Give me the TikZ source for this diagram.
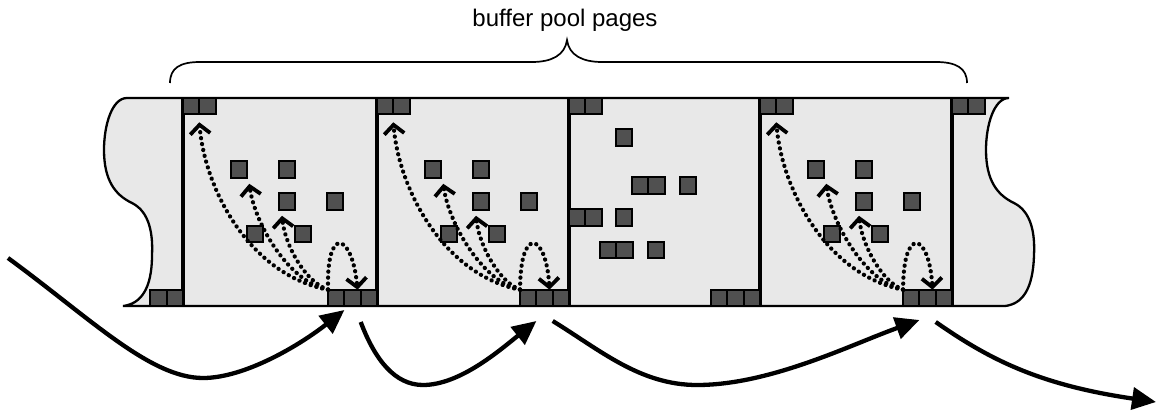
\documentclass[tikz,border=0pt]{standalone}
\usepackage{fontspec}
\setmainfont{Liberation Sans}
\usetikzlibrary{arrows.meta}
\definecolor{pagebg}{RGB}{232,232,232}
\definecolor{sqfill}{RGB}{80,80,80}
\begin{document}
\begin{tikzpicture}[x=1pt,y=-1pt,
  sqr/.style={draw=black, line width=2pt, fill=sqfill, minimum size=16.3pt, inner sep=0pt, outer sep=0pt, anchor=north west},
  strip/.style={draw=black, line width=2.3pt, fill=pagebg},
  pageline/.style={line width=3.4pt},
  dotarrow/.style={line width=4.2pt, dash pattern=on 0.2pt off 5.8pt, line cap=round, -{Straight Barb[length=9pt,width=20pt,line width'=3.8pt]}},
  jump/.style={line width=4.3pt, -{Triangle[length=24pt,width=22pt]}},
  bracepath/.style={line width=1.7pt},
  title/.style={font=\fontsize{24}{28}\selectfont, inner sep=0pt}
]
\useasboundingbox (0,0) rectangle (1156,414);

% strip of pages
\path[strip] (127,98) -- (1009,98)
  .. controls (994,98) and (986,125) .. (986,150)
  .. controls (986,180) and (997,195) .. (1014,203)
  .. controls (1032,212) and (1035,235) .. (1034,255)
  .. controls (1033,290) and (1022,304) .. (1005,306)
  -- (123,306)
  .. controls (140,304) and (152,290) .. (152,255)
  .. controls (153,235) and (150,212) .. (132,203)
  .. controls (115,195) and (104,180) .. (104,150)
  .. controls (104,125) and (112,98) .. (127,98) -- cycle;

\foreach \x in {183,377,569,760,952}
  \draw[pageline] (\x,98) -- (\x,306);

% partial pages at the ends
\node[sqr,anchor=south east] (p0-r2) at (183,306) {};
\node[sqr,anchor=south east] (p0-r1) at (166.7,306) {};
\node[sqr] (p5-t1) at (952,98) {};
\node[sqr] (p5-t2) at (968.3,98) {};

% pages with pointer arrows
\foreach \p/\xl/\xr in {1/183/377, 2/377/569, 4/760/952} {
  \node[sqr] (p\p-t1) at (\xl,98) {};
  \node[sqr] (p\p-t2) at ({\xl+16.3},98) {};
  \node[sqr] (p\p-a) at ({\xl+48},161.5) {};
  \node[sqr] (p\p-b) at ({\xl+96},161.5) {};
  \node[sqr] (p\p-c) at ({\xl+96},193.5) {};
  \node[sqr] (p\p-d) at ({\xl+144},193.5) {};
  \node[sqr] (p\p-e) at ({\xl+64},225.5) {};
  \node[sqr] (p\p-f) at ({\xl+112},225.5) {};
  \node[sqr,anchor=south east] (p\p-r3) at (\xr,306) {};
  \node[sqr,anchor=south east] (p\p-r2) at ({\xr-16.3},306) {};
  \node[sqr,anchor=south east] (p\p-r1) at ({\xr-32.6},306) {};
  \draw[dotarrow] (p\p-r1.north west) .. controls ({\xl+67},275) and ({\xl+22},190) .. ([yshift=-8pt]p\p-t1.south east);
  \draw[dotarrow] (p\p-r1.north west) .. controls ({\xl+107},283) and ({\xl+72},225) .. ([xshift=2pt,yshift=-6pt]p\p-a.south east);
  \draw[dotarrow] (p\p-r1.north west) .. controls ({\xl+122},282) and ({\xl+102},245) .. ([xshift=3pt,yshift=-6pt]p\p-c.south west);
  \draw[dotarrow] (p\p-r1.north west) .. controls ({\xl+143},225) and ({\xl+169},232) .. ([xshift=5pt]p\p-r2.north);
}

% page 3 (no pointers)
\node[sqr] (p3-t1) at (569,98) {};
\node[sqr] (p3-t2) at (585.3,98) {};
\node[sqr] (p3-a) at (616,129.5) {};
\node[sqr] (p3-b1) at (632,177.5) {};
\node[sqr] (p3-b2) at (648.3,177.5) {};
\node[sqr] (p3-c) at (680,177.5) {};
\node[sqr] (p3-l1) at (569,209.5) {};
\node[sqr] (p3-l2) at (585.3,209.5) {};
\node[sqr] (p3-d) at (616,209.5) {};
\node[sqr] (p3-e1) at (600,241.5) {};
\node[sqr] (p3-e2) at (616.3,241.5) {};
\node[sqr] (p3-f) at (648,241.5) {};
\node[sqr,anchor=south east] (p3-r3) at (760,306) {};
\node[sqr,anchor=south east] (p3-r2) at (743.7,306) {};
\node[sqr,anchor=south east] (p3-r1) at (727.4,306) {};

% traversal arrows
\coordinate (a1s) at (8,258);
\coordinate (a1e) at ([yshift=-4pt]p1-r2.south west);
\coordinate (a2s) at ([yshift=-16pt]p1-r3.south west);
\coordinate (a2e) at ([yshift=-15pt]p2-r2.south west);
\coordinate (a3s) at ([yshift=-15pt]p2-r3.south west);
\coordinate (a3e) at ([yshift=-14pt]p4-r2.south west);
\coordinate (a4s) at ([yshift=-16pt]p4-r3.south west);
\coordinate (a4e) at (1156,402);

\draw[jump] (a1s) .. controls (90,318) and (150,378) .. (203,378) .. controls (245,378) and (300,345) .. (a1e);
\draw[jump] (a2s) .. controls (375,360) and (395,385) .. (423,385) .. controls (460,385) and (500,350) .. (a2e);
\draw[jump] (a3s) .. controls (600,350) and (640,385) .. (697,385) .. controls (770,385) and (850,345) .. (a3e);
\draw[jump] (a4s) .. controls (990,360) and (1040,385) .. (a4e);

% brace and title
\draw[bracepath] (170,83) .. controls (170,68) and (180,62) .. (200,62) -- (532,62)
  .. controls (552,62) and (565,55) .. (567,40)
  .. controls (569,55) and (582,62) .. (602,62) -- (936,62)
  .. controls (956,62) and (967,68) .. (967,83);
\node[title] (lbl) at (565,20) {buffer pool pages};
\end{tikzpicture}
\end{document}
